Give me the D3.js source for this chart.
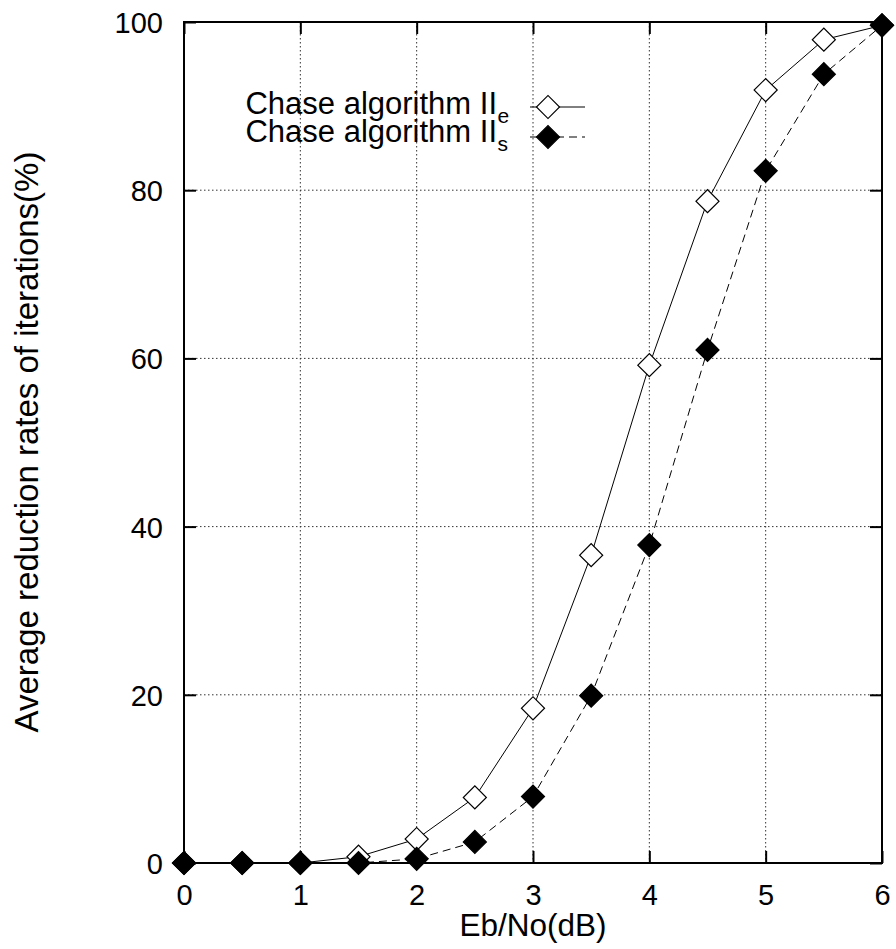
<!DOCTYPE html>
<html><head><meta charset="utf-8">
<script src="https://cdn.jsdelivr.net/npm/d3@7"></script>
<style>
html,body{margin:0;padding:0;background:#fff;}
text{font-family:"Liberation Sans",Arial,Helvetica,sans-serif;fill:#000;}
</style></head>
<body><svg id="c" width="896" height="949"></svg>
<script>
const xValues = [0, 0.5, 1, 1.5, 2, 2.5, 3, 3.5, 4, 4.5, 5, 5.5, 6];
const seriesE = [0, 0, 0, 0.75, 2.85, 7.8, 18.4, 36.6, 59.2, 78.7, 91.9, 97.9, 99.6];
const seriesS = [0, 0, 0, 0, 0.5, 2.5, 7.9, 19.9, 37.8, 61.0, 82.3, 93.8, 99.6];
const xTicks = [0, 1, 2, 3, 4, 5, 6];
const yTicks = [0, 20, 40, 60, 80, 100];
const legendLabels = ["Chase algorithm II", "Chase algorithm II"];
const legendSubs = ["e", "s"];
const xTitle = "Eb/No(dB)";
const yTitle = "Average reduction rates of iterations(%)";

const svg = d3.select("#c");
const L = 184, R = 882, T = 22, B = 863;
const x = d3.scaleLinear().domain([0, 6]).range([L, R]);
const y = d3.scaleLinear().domain([0, 100]).range([B, T]);

// grid
const g = svg.append("g");
g.selectAll("line.gx").data(xTicks.slice(1, -1)).join("line")
  .attr("x1", d => x(d)).attr("x2", d => x(d)).attr("y1", T).attr("y2", B)
  .attr("stroke", "#333").attr("stroke-width", 1).attr("stroke-dasharray", "1.5,2.5");
g.selectAll("line.gy").data(yTicks.slice(1, -1)).join("line")
  .attr("y1", d => y(d)).attr("y2", d => y(d)).attr("x1", L).attr("x2", R)
  .attr("stroke", "#333").attr("stroke-width", 1).attr("stroke-dasharray", "1.5,2.5");

// axes with inward ticks
const tl = 12;
const ax = svg.append("g");
const axB = d3.axisBottom(x).tickValues(xTicks).tickSize(-tl).tickPadding(tl + 8).tickFormat(d3.format("d"));
const axT = d3.axisTop(x).tickValues(xTicks).tickSize(-tl).tickFormat("");
const axL = d3.axisLeft(y).tickValues(yTicks).tickSize(-tl).tickPadding(tl + 9).tickFormat(d3.format("d"));
const axR = d3.axisRight(y).tickValues(yTicks).tickSize(-tl).tickFormat("");
function style(sel) {
  sel.select(".domain").remove();
  sel.selectAll(".tick line").attr("stroke", "#000").attr("stroke-width", 2);
  sel.selectAll(".tick text").style("font-size", "29px").attr("fill", "#000");
}
ax.append("g").attr("transform", `translate(0,${B})`).call(axB).call(style)
  .selectAll(".tick text").attr("dy", "0.76em");
ax.append("g").attr("transform", `translate(0,${T})`).call(axT).call(style);
ax.append("g").attr("transform", `translate(${L},0)`).call(axL).call(style)
  .selectAll(".tick text").attr("dy", "0.36em");
ax.append("g").attr("transform", `translate(${R},0)`).call(axR).call(style);
svg.append("rect").attr("x", L).attr("y", T).attr("width", R - L).attr("height", B - T)
  .attr("fill", "none").attr("stroke", "#000").attr("stroke-width", 2);

// lines
const line = d3.line().x(d => x(d[0])).y(d => y(d[1]));
const dataE = xValues.map((v, i) => [v, seriesE[i]]);
const dataS = xValues.map((v, i) => [v, seriesS[i]]);
svg.append("path").attr("d", line(dataE)).attr("fill", "none").attr("stroke", "#000").attr("stroke-width", 1);
svg.append("path").attr("d", line(dataS)).attr("fill", "none").attr("stroke", "#000").attr("stroke-width", 1).attr("stroke-dasharray", "8,5");

function diamond(sel, data, fill) {
  sel.selectAll(null).data(data).join("path")
    .attr("d", d3.symbol().type(d3.symbolSquare).size(16.3 * 16.3))
    .attr("transform", d => `translate(${x(d[0])},${y(d[1])}) rotate(45)`)
    .attr("fill", fill).attr("stroke", "#000").attr("stroke-width", 1.2);
}
diamond(svg.append("g"), dataE, "#fff");
diamond(svg.append("g"), dataS, "#000");

// legend
const lg = svg.append("g");
const rows = [{yy: 107, base: 114, fill: "#fff", dash: null}, {yy: 137, base: 142, fill: "#000", dash: "8,5"}];
rows.forEach((r, i) => {
  lg.append("text").attr("x", 497).attr("y", r.base).attr("text-anchor", "end").style("font-size", "31px").text(legendLabels[i]);
  lg.append("text").attr("x", 497.5).attr("y", r.base + 9).style("font-size", "21px").text(legendSubs[i]);
  lg.append("line").attr("x1", 530).attr("x2", 585).attr("y1", r.yy).attr("y2", r.yy)
    .attr("stroke", "#000").attr("stroke-width", 1).attr("stroke-dasharray", r.dash);
  lg.append("path").attr("d", d3.symbol().type(d3.symbolSquare).size(16.3 * 16.3))
    .attr("transform", `translate(548,${r.yy}) rotate(45)`)
    .attr("fill", r.fill).attr("stroke", "#000").attr("stroke-width", 1.2);
});

// titles
svg.append("text").attr("x", 533).attr("y", 936).attr("text-anchor", "middle").style("font-size", "31.5px").text(xTitle);
svg.append("text").attr("transform", "translate(38,442) rotate(-90)").attr("text-anchor", "middle").style("font-size", "33px").text(yTitle);
</script></body></html>
